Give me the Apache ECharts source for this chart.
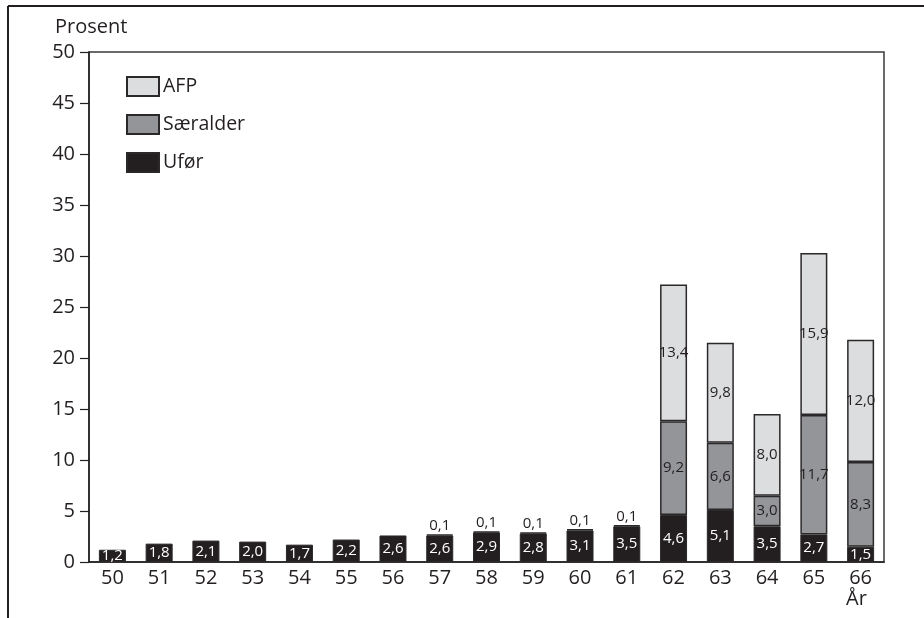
<!DOCTYPE html>
<html><head><meta charset="utf-8">
<script src="https://cdn.jsdelivr.net/npm/echarts@6/dist/echarts.min.js"></script>
<style>html,body{margin:0;padding:0;background:#fff}#c{width:924px;height:618px}</style>
</head><body><div id="c"></div>
<script>
const years = ['50','51','52','53','54','55','56','57','58','59','60','61','62','63','64','65','66'];
const ufor = [1.2,1.8,2.1,2.0,1.7,2.2,2.6,2.6,2.9,2.8,3.1,3.5,4.6,5.1,3.5,2.7,1.5];
const saeralder = [null,null,null,null,null,null,null,0.1,0.1,0.1,0.1,0.1,9.2,6.6,3.0,11.7,8.3];
const afp = [null,null,null,null,null,null,null,null,null,null,null,null,13.4,9.8,8.0,15.9,12.0];
const yTicks = [0,5,10,15,20,25,30,35,40,45,50];

const FONT = 'Open Sans';
const fmt = v => String(v.toFixed(1)).replace('.', ',');
const border = '#2b2829';

function mk(arr, small) {
  return arr.map(v => {
    if (v == null) return null;
    if (small && v < 1) return {value: v, label: {position: 'top', distance: 1}};
    return v;
  });
}

const chart = echarts.init(document.getElementById('c'));
chart.setOption({
  animation: false,
  textStyle: {fontFamily: FONT},
  grid: {left: 89, right: 40, top: 52, bottom: 56, show: true, borderColor: '#3a3a3a', borderWidth: 1.5, backgroundColor: 'transparent'},
  legend: {
    data: ['AFP','Særalder','Ufør'],
    orient: 'vertical', left: 121, top: 71, itemWidth: 32, itemHeight: 19, itemGap: 17,
    icon: 'rect',
    textStyle: {fontFamily: FONT, fontSize: 19.5, color: '#231f20', padding: [0,0,0,-1]}
  },
  xAxis: {
    type: 'category', data: years,
    axisLine: {lineStyle: {color: '#231f20', width: 1.5}},
    axisTick: {show: false},
    axisLabel: {fontFamily: FONT, fontSize: 20, color: '#231f20', margin: 6}
  },
  yAxis: {
    type: 'value', min: 0, max: 50, interval: 5,
    axisLine: {show: true, lineStyle: {color: '#231f20', width: 1.5}},
    axisTick: {show: true, length: 9, lineStyle: {color: '#231f20', width: 1.2}},
    splitLine: {show: false},
    axisLabel: {fontFamily: FONT, fontSize: 20, color: '#231f20', margin: 14,
      formatter: v => yTicks.includes(v) ? String(v) : ''}
  },
  series: [
    {name: 'Ufør', type: 'bar', stack: 's', barWidth: 27, data: ufor,
     itemStyle: {color: '#231f20', borderColor: border, borderWidth: 1},
     label: {show: true, position: 'inside', color: '#ffffff', fontSize: 15, fontFamily: FONT, formatter: p => fmt(p.value)}},
    {name: 'Særalder', type: 'bar', stack: 's', barWidth: 27, data: mk(saeralder, true),
     itemStyle: {color: '#939598', borderColor: border, borderWidth: 1.5},
     label: {show: true, position: 'inside', color: '#231f20', fontSize: 15, fontFamily: FONT, formatter: p => fmt(p.value)}},
    {name: 'AFP', type: 'bar', stack: 's', barWidth: 27, data: afp,
     itemStyle: {color: '#dcdddf', borderColor: border, borderWidth: 1.5},
     label: {show: true, position: 'inside', color: '#231f20', fontSize: 15, fontFamily: FONT, formatter: p => fmt(p.value)}}
  ],
  graphic: [
    {type: 'text', left: 55, top: 17, style: {text: 'Prosent', fontFamily: FONT, fontSize: 20, fill: '#231f20'}},
    {type: 'text', left: 846, top: 589, style: {text: 'År', fontFamily: FONT, fontSize: 20, fill: '#231f20'}},
    {type: 'line', shape: {x1: 8, y1: 6, x2: 924, y2: 6}, style: {stroke: '#231f20', lineWidth: 2}},
    {type: 'line', shape: {x1: 8, y1: 6, x2: 8, y2: 618}, style: {stroke: '#231f20', lineWidth: 2}}
  ]
});
</script></body></html>
